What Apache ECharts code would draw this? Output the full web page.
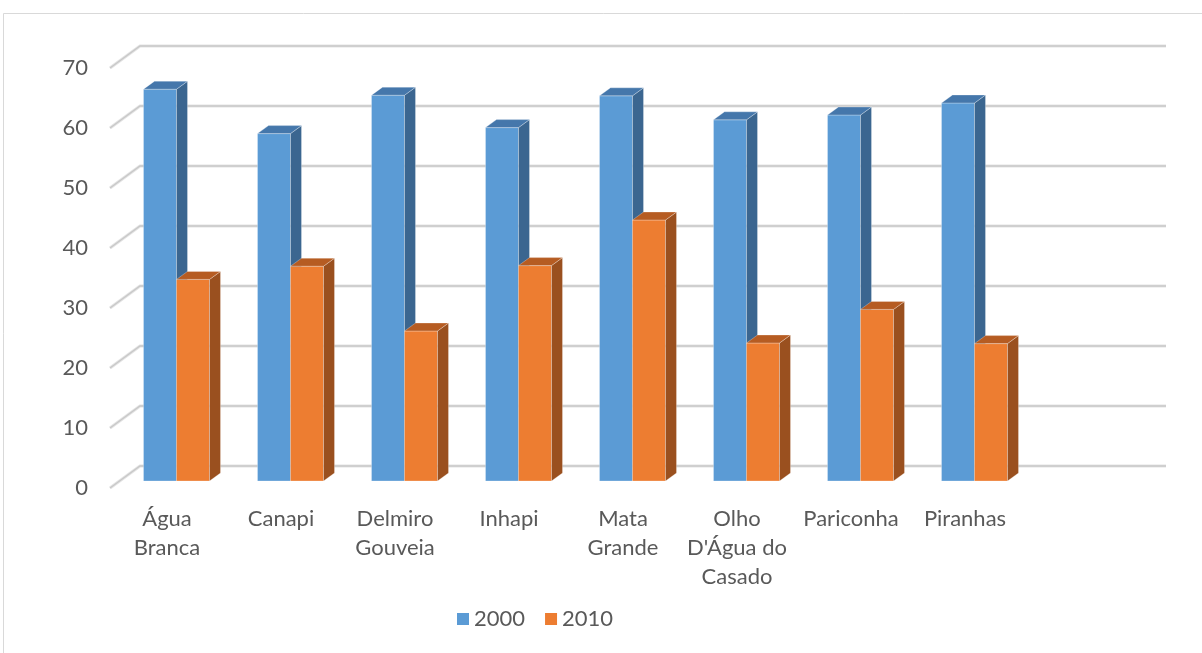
<!DOCTYPE html>
<html>
<head>
<meta charset="utf-8">
<title>2000 x 2010</title>
<script src="https://cdn.jsdelivr.net/npm/echarts@6/dist/echarts.min.js"></script>
<style>
  html, body { margin: 0; padding: 0; background: #fff; }
  #main { width: 1202px; height: 653px; }
</style>
</head>
<body>
<div id="main"></div>
<script>
// municipios (o ultimo espaco fica vazio, como no original)
var categories = ['Água\nBranca', 'Canapi', 'Delmiro\nGouveia', 'Inhapi', 'Mata\nGrande',
  "Olho\nD'Água do\nCasado", 'Pariconha', 'Piranhas', ''];
var values2000 = [65.3, 57.9, 64.3, 58.9, 64.2, 60.2, 61.0, 63.0];
var values2010 = [33.6, 35.8, 25.0, 35.9, 43.5, 23.0, 28.6, 22.9];
var yTicks = [0, 10, 20, 30, 40, 50, 60, 70];

var textColor = '#595959';
var font = 'Lato';

// cores das faces: frente, lado, topo
var blue = ['#5b9bd5', '#3b6690', '#4577ab'];
var orange = ['#ed7d31', '#9a501f', '#b65c22'];

// deslocamento do plano das barras e profundidade (px)
var planeDx = 9.5, planeDy = -7;
var wallDx = 30, wallDy = -22;
var depthDx = 11, depthDy = -8;
var barW = 33;

function barRenderer(colors, side) {
  return function (params, api) {
    var idx = api.value(0);
    var top = api.coord([idx, api.value(1)]);
    var base = api.coord([idx, 0]);
    var x0 = top[0] + planeDx + (side < 0 ? -barW : 0);
    var yT = top[1] + planeDy;
    var yB = base[1] + planeDy;
    var edge = { stroke: 'rgba(255,255,255,0.35)', lineWidth: 0.8 };
    return {
      type: 'group',
      children: [
        {
          type: 'rect',
          shape: { x: x0, y: yT, width: barW, height: yB - yT },
          style: Object.assign({ fill: colors[0] }, edge)
        },
        {
          type: 'polygon',
          shape: { points: [[x0 + barW, yT], [x0 + barW + depthDx, yT + depthDy],
            [x0 + barW + depthDx, yB + depthDy], [x0 + barW, yB]] },
          style: Object.assign({ fill: colors[1] }, edge)
        },
        {
          type: 'polygon',
          shape: { points: [[x0, yT], [x0 + depthDx, yT + depthDy],
            [x0 + barW + depthDx, yT + depthDy], [x0 + barW, yT]] },
          style: Object.assign({ fill: colors[2] }, edge)
        }
      ]
    };
  };
}

function gridRenderer(params, api) {
  var cs = params.coordSys;
  var y = api.coord([0, api.value(1)])[1];
  var pts = [[cs.x, y], [cs.x + wallDx, y + wallDy], [cs.x + cs.width + wallDx, y + wallDy]];
  return {
    type: 'group',
    children: [
      { type: 'polyline', shape: { points: pts }, style: { stroke: '#e4e4e4', lineWidth: 3.2, fill: null } },
      { type: 'polyline', shape: { points: pts }, style: { stroke: '#c8c8c8', lineWidth: 1.3, fill: null } }
    ]
  };
}

var myChart = echarts.init(document.getElementById('main'), null, { renderer: 'canvas' });

var option = {
  animation: false,
  backgroundColor: '#fff',
  graphic: [{
    type: 'rect',
    shape: { x: 3.5, y: 13.5, width: 1300, height: 800 },
    style: { fill: null, stroke: '#d9d9d9', lineWidth: 1 },
    silent: true
  }],
  legend: {
    data: ['2000', '2010'],
    left: 452,
    top: 603,
    icon: 'rect',
    itemWidth: 12,
    itemHeight: 12,
    itemGap: 20,
    textStyle: { color: textColor, fontFamily: font, fontSize: 22 }
  },
  grid: { left: 110, right: 66, top: 68, bottom: 165 },
  xAxis: {
    type: 'category',
    data: categories,
    axisLine: { show: false },
    axisTick: { show: false },
    axisLabel: {
      interval: 0,
      margin: 16,
      color: textColor,
      fontFamily: font,
      fontSize: 22,
      lineHeight: 29
    }
  },
  yAxis: {
    type: 'value',
    min: 0,
    max: 70,
    interval: 10,
    axisLine: { show: false },
    axisTick: { show: false },
    splitLine: { show: false },
    axisLabel: { margin: 22, color: textColor, fontFamily: font, fontSize: 22 }
  },
  series: [
    {
      name: 'grade',
      type: 'custom',
      silent: true,
      z: 1,
      renderItem: gridRenderer,
      data: yTicks.map(function (v) { return [0, v]; })
    },
    {
      name: '2000',
      type: 'custom',
      z: 2,
      itemStyle: { color: blue[0] },
      renderItem: barRenderer(blue, -1),
      data: values2000.map(function (v, i) { return [i, v]; })
    },
    {
      name: '2010',
      type: 'custom',
      z: 3,
      itemStyle: { color: orange[0] },
      renderItem: barRenderer(orange, 1),
      data: values2010.map(function (v, i) { return [i, v]; })
    }
  ]
};

myChart.setOption(option);
</script>
</body>
</html>
